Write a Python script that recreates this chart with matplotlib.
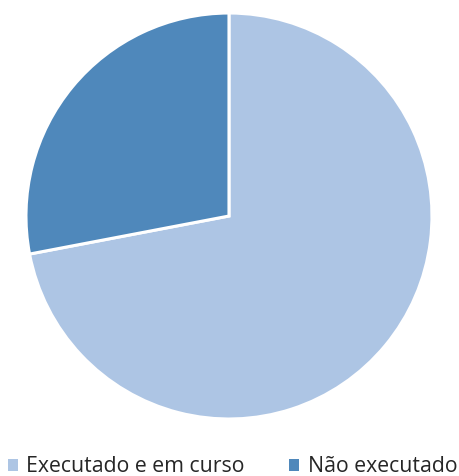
import matplotlib
matplotlib.use("Agg")
import matplotlib.pyplot as plt
from matplotlib.patches import Patch

plt.rcParams["font.family"] = ["Open Sans", "DejaVu Sans"]

# status shares (%)
labels = ["Executado e em curso", "Não executado"]
shares = [72, 28]
colors = ["#adc5e4", "#4f88bb"]

fig = plt.figure(figsize=(4.59, 4.76), dpi=100)
ax = fig.add_axes([0.0566, 0.1197, 0.8845, 0.853])
ax.pie(shares, colors=colors, startangle=90, counterclock=False,
       radius=1.0, wedgeprops=dict(edgecolor="white", linewidth=2.2))
ax.set_xlim(-1, 1)
ax.set_ylim(-1, 1)
ax.set_aspect("equal")
ax.axis("off")

handles = [Patch(facecolor=c, edgecolor="none") for c in colors]
fig.legend(handles, labels, loc="center", bbox_to_anchor=(0.507, 0.019),
           ncol=2, frameon=False, fontsize=15.3, handlelength=0.47,
           handleheight=0.47, handletextpad=0.38, columnspacing=2.1,
           labelcolor="#262626")

fig.savefig("out.png", dpi=100)
